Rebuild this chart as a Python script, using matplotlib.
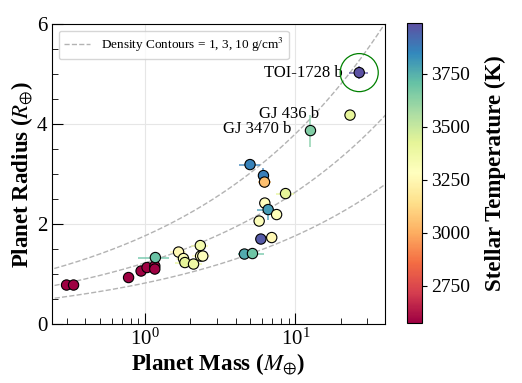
import matplotlib
matplotlib.use("Agg")
import matplotlib.pyplot as plt
import numpy as np

plt.rcParams["font.family"] = ["Liberation Serif", "DejaVu Serif"]
plt.rcParams["mathtext.fontset"] = "stix"

# planet mass (Earth masses), radius (Earth radii), host star temperature (K)
mass = [0.30, 0.334, 0.776, 0.94, 1.03, 1.16, 1.16, 1.17, 1.67, 1.80, 1.84, 2.10,
        2.33, 2.34, 2.42, 4.58, 5.18, 4.99, 6.13, 6.23, 8.6, 6.26, 6.59, 7.5,
        5.74, 5.89, 6.96, 26.6, 23.1, 12.6]
radius = [0.78, 0.78, 0.93, 1.06, 1.13, 1.16, 1.10, 1.33, 1.44, 1.31, 1.23, 1.20,
          1.57, 1.36, 1.36, 1.40, 1.41, 3.19, 2.97, 2.84, 2.61, 2.42, 2.29, 2.19,
          2.06, 1.70, 1.73, 5.03, 4.18, 3.87]
teff = [2566, 2566, 2566, 2566, 2566, 2566, 2566, 3700, 3250, 3300, 3420, 3380,
        3350, 3280, 3300, 3760, 3690, 3860, 3870, 3050, 3420, 3280, 3800, 3300,
        3300, 3960, 3250, 3980, 3420, 3650]
mass_err = [0.02, 0.03, 0.05, 0.04, 0.05, 0.05, 0.05, 0.28, 0.2, 0.2, 0.25, 0.3,
            0.3, 0.3, 0.3, 0.4, 1.0, 0.8, 0.3, 0.6, 1.2, 0.3, 1.0, 0.5,
            0.3, 0.4, 0.3, 4.0, 1.0, 0.6]
radius_err = [0.01, 0.01, 0.02, 0.02, 0.02, 0.02, 0.02, 0.03, 0.03, 0.05, 0.03, 0.03,
              0.05, 0.05, 0.05, 0.03, 0.03, 0.05, 0.16, 0.12, 0.05, 0.08, 0.2, 0.06,
              0.06, 0.06, 0.05, 0.13, 0.08, 0.32]

labels = {"TOI-1728 b": 27, "GJ 436 b": 28, "GJ 3470 b": 29}
label_offsets = {"TOI-1728 b": (-12, 0), "GJ 436 b": (-22, 1), "GJ 3470 b": (-14, 1)}
densities = [1, 3, 10]

fig = plt.figure(figsize=(5.22, 3.83), dpi=100)
ax = fig.add_axes([0.0996, 0.154, 0.638, 0.783])
cax = fig.add_axes([0.779, 0.157, 0.029, 0.784])

cmap = plt.get_cmap("Spectral")
norm = plt.Normalize(2575, 3990)

for m, r, t, me, re in zip(mass, radius, teff, mass_err, radius_err):
    ax.errorbar(m, r, xerr=me, yerr=re, fmt="none", ecolor=cmap(norm(t)),
                elinewidth=1.2, alpha=0.8, zorder=2)

sc = ax.scatter(mass, radius, c=teff, cmap=cmap, norm=norm, s=55,
                edgecolors="black", linewidths=0.8, zorder=3)

mgrid = np.logspace(np.log10(0.2), np.log10(50), 200)
for i, rho in enumerate(densities):
    ax.plot(mgrid, (mgrid * 5.51 / rho) ** (1 / 3), ls="--", color="0.7", lw=1,
            zorder=1, label="Density Contours = 1, 3, 10 g/cm$^3$" if i == 0 else None)

for name, idx in labels.items():
    ax.annotate(name, (mass[idx], radius[idx]), xytext=label_offsets[name],
                textcoords="offset points", ha="right", va="center", fontsize=12)

ax.scatter([mass[27]], [radius[27]], s=750, facecolors="none", edgecolors="green",
           linewidths=0.9, zorder=4)

ax.set_xscale("log")
ax.set_xlim(0.24, 39.5)
ax.set_ylim(0, 6)
ax.set_yticks([0, 2, 4, 6])
ax.set_yticks(np.arange(0, 6.01, 0.5), minor=True)
ax.tick_params(which="both", direction="in", labelsize=15)
ax.tick_params(which="major", length=8)
ax.tick_params(which="minor", length=4)
ax.grid(True, which="major", color="0.9", lw=0.8)
ax.set_axisbelow(True)
ax.set_xlabel(r"Planet Mass ($M_{\oplus}$)", fontsize=16.5, fontweight="bold", labelpad=1)
ax.set_ylabel(r"Planet Radius ($R_{\oplus}$)", fontsize=16.5, fontweight="bold", labelpad=1)
ax.legend(loc="upper left", fontsize=9.5, framealpha=0.8)

cb = fig.colorbar(sc, cax=cax)
cb.set_ticks([2750, 3000, 3250, 3500, 3750])
cb.ax.tick_params(labelsize=14)
cb.set_label("Stellar Temperature (K)", fontsize=16.5, fontweight="bold", labelpad=10)

fig.savefig("out.png", dpi=100)
